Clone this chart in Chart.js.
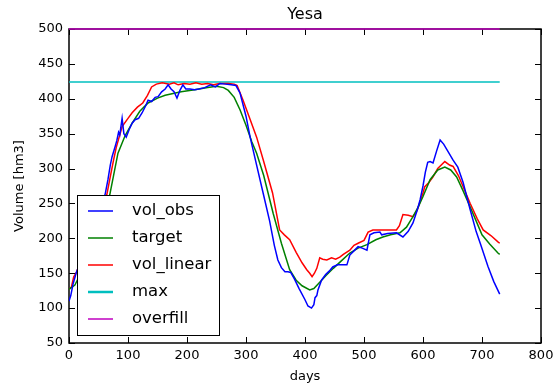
<!DOCTYPE html>
<html>
<head>
<meta charset="utf-8">
<script src="https://cdn.jsdelivr.net/npm/chart.js@4/dist/chart.umd.min.js"></script>
<style>
  body { margin: 0; background: #fff; }
  #wrap { width: 556px; height: 390px; }
</style>
</head>
<body>
<div id="wrap"><canvas id="chart" width="556" height="390"></canvas></div>
<script>
const titleText = "Yesa";
const xTicks = [0, 100, 200, 300, 400, 500, 600, 700, 800];
const yTicks = [50, 100, 150, 200, 250, 300, 350, 400, 450, 500];

// vol_obs (blue)
const obsDays = [0, 3, 7, 12, 30, 50, 61, 66, 70, 73, 78, 81, 84, 86, 90, 93, 97, 102, 107, 112, 118, 124, 130, 134, 140, 146, 151, 157, 163, 168, 173, 178, 183, 188, 193, 198, 205, 213, 220, 230, 240, 248, 256, 265, 275, 283, 290, 300, 307, 318, 329, 340, 348, 354, 360, 366, 371, 376, 382, 390, 400, 405, 411, 415, 417, 420, 422, 428, 435, 441, 447, 455, 462, 471, 476, 483, 490, 497, 505, 510, 517, 527, 530, 540, 555, 566, 575, 583, 590, 595, 600, 604, 608, 612, 617, 623, 629, 635, 642, 651, 659, 668, 680, 690, 697, 710, 720, 730];
const obsVol = [110, 118, 135, 150, 190, 235, 262, 284, 305, 317, 331, 340, 352, 348, 372, 350, 345, 356, 365, 370, 372, 380, 390, 398, 396, 402, 403, 410, 414, 420, 414, 410, 401, 412, 420, 414, 414, 413, 414, 416, 420, 417, 422, 421, 420, 419, 408, 375, 345, 305, 265, 225, 190, 169, 158, 152, 152, 151, 142, 128, 112, 103, 100, 105, 115, 118, 126, 140, 148, 153, 159, 162, 162, 162, 176, 182, 188, 186, 183, 205, 208, 209, 205, 207, 208, 202, 210, 222, 240, 255, 275, 295, 309, 310, 308, 325, 341, 335, 325, 312, 302, 280, 241, 210, 193, 160, 138, 120];

// target (green)
const targetDays = [0, 5, 10, 20, 40, 60, 69, 76, 83, 95, 107, 120, 134, 150, 163, 190, 213, 235, 250, 262, 270, 280, 290, 300, 310, 318, 330, 346, 360, 374, 385, 395, 408, 415, 425, 436, 448, 462, 476, 490, 505, 520, 532, 545, 561, 572, 583, 592, 600, 612, 625, 637, 647, 657, 668, 680, 690, 700, 713, 727, 730];
const targetVol = [127, 130, 133, 150, 195, 240, 262, 292, 322, 347, 365, 382, 394, 401, 405, 410, 413, 416, 418, 416, 412, 402, 384, 362, 338, 322, 290, 236, 193, 155, 140, 132, 126, 128, 137, 147, 157, 168, 179, 186, 191, 198, 202, 205, 208, 216, 231, 245, 260, 284, 298, 302, 298, 288, 268, 245, 225, 205, 192, 179, 177];

// vol_linear (red)
const linDays = [0, 4, 8, 12, 30, 50, 64, 69, 75, 80, 85, 90, 100, 107, 116, 125, 133, 140, 148, 158, 170, 178, 185, 195, 205, 215, 225, 235, 245, 255, 270, 280, 285, 295, 305, 318, 330, 345, 357, 365, 374, 385, 395, 403, 408, 412, 416, 420, 425, 430, 437, 445, 452, 459, 465, 476, 483, 490, 500, 507, 515, 530, 545, 555, 560, 566, 575, 583, 590, 600, 603, 610, 617, 625, 637, 645, 651, 660, 670, 680, 692, 702, 715, 727, 730];
const linVol = [127, 130, 145, 150, 190, 230, 262, 284, 310, 330, 345, 360, 372, 380, 388, 394, 405, 417, 421, 423, 421, 423, 420, 422, 421, 423, 421, 422, 420, 422, 422, 421, 419, 398, 375, 345, 310, 265, 212, 205, 198, 180, 165, 155, 150, 145, 150, 157, 172, 170, 169, 172, 170, 173, 177, 183, 190, 193, 197, 209, 212, 212, 212, 212, 218, 234, 233, 231, 240, 265, 274, 280, 288, 300, 310, 305, 303, 290, 270, 250, 228, 212, 204, 195, 193];

// max and overfill levels
const maxDays = [0, 730];
const maxVol = [424, 424];
const overDays = [0, 730];
const overVol = [500, 500];

const pts = (xs, ys) => xs.map((x, i) => ({ x: x, y: ys[i] }));

const font = "'DejaVu Sans', sans-serif";

const series = [
  { label: "vol_obs", data: pts(obsDays, obsVol), borderColor: "#0000ff" },
  { label: "target", data: pts(targetDays, targetVol), borderColor: "#008000" },
  { label: "vol_linear", data: pts(linDays, linVol), borderColor: "#ff0000" },
  { label: "max", data: pts(maxDays, maxVol), borderColor: "#00bfbf" },
  { label: "overfill", data: pts(overDays, overVol), borderColor: "#bf00bf", clip: 3 },
].map((s) => Object.assign({
  borderWidth: 1.5,
  pointRadius: 0,
  tension: 0,
  fill: false,
}, s));

// frame, inward ticks, title
const framePlugin = {
  id: "frame",
  beforeDatasetsDraw(chart) {
    const { ctx, chartArea: a } = chart;
    const xs = chart.scales.x, ys = chart.scales.y;
    ctx.save();
    ctx.strokeStyle = "#000";
    ctx.lineWidth = 1;
    ctx.beginPath();
    xTicks.forEach((v) => {
      const px = Math.round(xs.getPixelForValue(v)) + 0.5;
      ctx.moveTo(px, a.bottom); ctx.lineTo(px, a.bottom - 6);
      ctx.moveTo(px, a.top); ctx.lineTo(px, a.top + 6);
    });
    yTicks.forEach((v) => {
      const py = Math.round(ys.getPixelForValue(v)) + 0.5;
      ctx.moveTo(a.left, py); ctx.lineTo(a.left + 6, py);
      ctx.moveTo(a.right, py); ctx.lineTo(a.right - 6, py);
    });
    ctx.stroke();
    ctx.lineWidth = 1.5;
    ctx.strokeRect(a.left, a.top, a.right - a.left, a.bottom - a.top);
    ctx.fillStyle = "#000";
    ctx.font = "16px " + font;
    ctx.textAlign = "center";
    ctx.textBaseline = "middle";
    ctx.fillText(titleText, (a.left + a.right) / 2, 15);
    ctx.restore();
  },
};

// legend box in the lower left corner
const legendPlugin = {
  id: "boxLegend",
  afterDraw(chart) {
    const { ctx } = chart;
    const bx = 77, by = 195, bw = 142, bh = 140;
    ctx.save();
    ctx.fillStyle = "#fff";
    ctx.fillRect(bx, by, bw, bh);
    ctx.strokeStyle = "#000";
    ctx.lineWidth = 1;
    ctx.strokeRect(bx + 0.5, by + 0.5, bw, bh);
    ctx.font = "16.5px " + font;
    ctx.textBaseline = "middle";
    ctx.textAlign = "left";
    chart.data.datasets.forEach((d, i) => {
      const y = by + 16 + i * 27;
      ctx.strokeStyle = d.borderColor;
      ctx.lineWidth = (d.label === "max") ? 2.5 : 1.5;
      ctx.beginPath();
      ctx.moveTo(bx + 11, y);
      ctx.lineTo(bx + 36, y);
      ctx.stroke();
      ctx.fillStyle = "#000";
      ctx.fillText(d.label, bx + 55, y);
    });
    ctx.restore();
  },
};

new Chart(document.getElementById("chart"), {
  type: "line",
  data: { datasets: series },
  plugins: [framePlugin, legendPlugin],
  options: {
    responsive: false,
    animation: false,
    layout: { padding: { left: 0, right: 15, top: 29, bottom: 0 } },
    plugins: {
      legend: { display: false },
      tooltip: { enabled: false },
    },
    scales: {
      x: {
        type: "linear",
        min: 0,
        max: 800,
        afterBuildTicks: (s) => { s.ticks = xTicks.map((v) => ({ value: v })); },
        afterFit: (s) => { s.height = 47; s.paddingLeft = 0; s.paddingRight = 0; },
        grid: { display: false, drawTicks: false },
        border: { display: false },
        ticks: { color: "#000", padding: 5, maxRotation: 0, font: { family: font, size: 13 } },
        title: { display: true, text: "days", color: "#000", padding: { top: 4, bottom: 6 }, font: { family: font, size: 13 } },
      },
      y: {
        type: "linear",
        min: 50,
        max: 500,
        afterBuildTicks: (s) => { s.ticks = yTicks.map((v) => ({ value: v })); },
        afterFit: (s) => { s.width = 69; s.paddingTop = 0; s.paddingBottom = 0; },
        grid: { display: false, drawTicks: false },
        border: { display: false },
        ticks: { color: "#000", padding: 6, font: { family: font, size: 13 } },
        title: { display: true, text: "Volume [hm3]", color: "#000", padding: { top: 12, bottom: 0 }, font: { family: font, size: 13 } },
      },
    },
  },
});
</script>
</body>
</html>
